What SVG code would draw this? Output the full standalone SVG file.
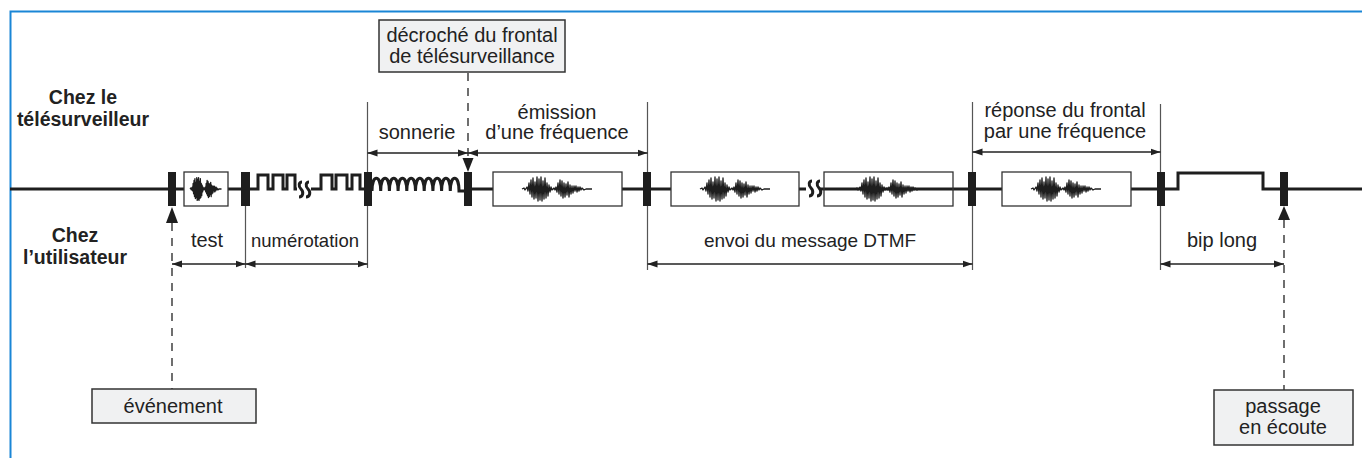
<svg xmlns="http://www.w3.org/2000/svg" width="1362" height="458" viewBox="0 0 1362 458">
<style>
text{font-family:"Liberation Sans",Arial,sans-serif;font-size:20px;fill:#222;text-anchor:middle}
.b{font-weight:bold;font-size:19.5px}
.frame{stroke:#1a86d6;stroke-width:2;fill:none}
.main{stroke:#1e1e1e;stroke-width:3;fill:none;stroke-linejoin:miter}
.mk{fill:#1e1e1e}
.box{fill:#fff;stroke:#333;stroke-width:1.3}
.gbox{fill:#f0f1f2;stroke:#333;stroke-width:1.5}
.vl{stroke:#555;stroke-width:1.2;fill:none}
.ar{stroke:#222;stroke-width:1.3;fill:none;marker-start:url(#ah);marker-end:url(#ah)}
.dash{stroke:#222;stroke-width:1.3;stroke-dasharray:8 7;fill:none}
.tri{fill:#1e1e1e}
.wv{stroke:#1e1e1e;stroke-width:1.3;fill:none;vector-effect:non-scaling-stroke;stroke-linejoin:round}
</style>
<defs>
<marker id="ah" viewBox="0 0 10 10" refX="10" refY="5" markerWidth="10" markerHeight="10" markerUnits="userSpaceOnUse" orient="auto-start-reverse">
<path d="M0,1.5 L10,5 L0,8.5 Z" fill="#222"/>
</marker>
<path id="wave" class="wv" d="M0,0 L2,-1 L3,1 L5,-2 L6,2 L7,-6 L8,5 L9,-9 L10,8 L11,-11 L12,10 L13,-7 L14,9 L15,-12 L16,12 L17,-10 L18,11 L19,-12 L20,12 L21,-8 L22,10 L23,-11 L24,9 L25,-6 L26,7 L27,-4 L28,3 L29,-2 L30,1 L32,-1 L33,1 L34,-2 L35,3 L36,-6 L37,5 L38,-9 L39,7 L40,-8 L41,9 L42,-6 L43,8 L44,-5 L45,6 L46,-7 L47,8 L48,-4 L49,5 L50,-3 L51,4 L52,-3 L53,2 L54,-3 L55,3 L56,-2 L57,2 L58,-2 L59,1 L60,-1 L62,1 L64,0 L70,0"/>
</defs>

<g id="frame">
<path class="frame" d="M10.5,458 V11.5 H1362"/>
</g>

<g id="signal">
<path class="main" d="M10,189 H250"/>
<path class="main" d="M250,189 H258 V175 H268 V189 H273 V175 H283 V189 H287 V175 H295 V189 H297"/>
<path class="main" stroke-width="2.5" d="M302,182 c-3,0 -4,4 -1,7 c3,3 2,8 -2,8 M309,182 c-3,0 -4,4 -1,7 c3,3 2,8 -2,8"/>
<path class="main" d="M311,189 H321 V175 H332 V189 H336 V175 H347 V189 H352 V175 H360 V189 H366"/>
<path class="main" stroke-width="2.5" d="M372,191 c0,-17 8.7,-17 8.7,0 c0,-17 8.7,-17 8.7,0 c0,-17 8.7,-17 8.7,0 c0,-17 8.7,-17 8.7,0 c0,-17 8.7,-17 8.7,0 c0,-17 8.7,-17 8.7,0 c0,-17 8.7,-17 8.7,0 c0,-17 8.7,-17 8.7,0 c0,-17 8.7,-17 8.7,0 c0,-17 8.7,-17 8.7,0 H466"/>
<path class="main" d="M466,189 H806"/>
<path class="main" stroke-width="2.5" d="M812,181 c-3,0 -4,4 -1,7 c3,3 2,8 -2,8 M820,181 c-3,0 -4,4 -1,7 c3,3 2,8 -2,8"/>
<path class="main" d="M819,189 H1165"/>
<path class="main" d="M1165,189 H1178 V173 H1263 V189 H1362"/>
</g>

<g id="boxes">
<g id="test-box"><rect class="box" x="184" y="172" width="44" height="34"/><use href="#wave" transform="translate(190,189) scale(0.45,0.95)"/></g>
<g id="emission-box"><rect class="box" x="493" y="172" width="129" height="34"/><use href="#wave" x="522" y="189"/></g>
<g id="dtmf-box-1"><rect class="box" x="671" y="172" width="128" height="34"/><use href="#wave" x="700" y="189"/></g>
<g id="dtmf-box-2"><rect class="box" style="fill:none" x="824" y="172" width="129" height="34"/><use href="#wave" x="855" y="189"/></g>
<g id="reponse-box"><rect class="box" x="1002" y="172" width="129" height="34"/><use href="#wave" x="1031" y="189"/></g>
</g>

<g id="connectors">
<path class="vl" d="M245.5,206 V268 M367.5,102 V268 M647.5,102 V270 M972.5,102 V270 M1160.5,104 V270"/>
<line class="ar" x1="367.5" y1="153" x2="468" y2="153"/>
<line class="ar" x1="468" y1="153" x2="647.5" y2="153"/>
<line class="ar" x1="972.5" y1="152" x2="1160.5" y2="152"/>
<line class="ar" x1="172" y1="264" x2="245.5" y2="264"/>
<line class="ar" x1="245.5" y1="264" x2="367.5" y2="264"/>
<line class="ar" x1="647.5" y1="264" x2="972.5" y2="264"/>
<line class="ar" x1="1160.5" y1="264" x2="1284" y2="264"/>
<path class="dash" d="M172,223 V389"/>
<path class="dash" d="M468,73 V158"/>
<path class="dash" d="M1284,220 V390"/>
<path class="tri" d="M172,207 L166,223 L178,223 Z"/>
<path class="tri" d="M468,172 L462.5,158 L473.5,158 Z"/>
<path class="tri" d="M1284,206 L1278,220 L1290,220 Z"/>
</g>

<g id="markers">
<rect class="mk" x="168" y="172" width="8" height="34"/>
<rect class="mk" x="241" y="172" width="9" height="34"/>
<rect class="mk" x="364" y="172" width="8" height="34"/>
<rect class="mk" x="464" y="172" width="8" height="34"/>
<rect class="mk" x="643" y="172" width="8" height="34"/>
<rect class="mk" x="968" y="172" width="8" height="34"/>
<rect class="mk" x="1157" y="172" width="8" height="34"/>
<rect class="mk" x="1280" y="172" width="8" height="34"/>
</g>

<g id="label-telesurveilleur"><text class="b" x="83" y="104">Chez le</text><text class="b" x="83" y="126">télésurveilleur</text></g>
<g id="label-utilisateur"><text class="b" x="75" y="242">Chez</text><text class="b" x="75" y="264">l’utilisateur</text></g>

<g id="decroche"><rect class="gbox" x="379" y="20" width="186" height="52"/><text x="472" y="42">décroché du frontal</text><text x="472" y="63">de télésurveillance</text></g>
<g id="evenement"><rect class="gbox" x="92" y="389" width="164" height="34"/><text x="173" y="413">événement</text></g>
<g id="passage"><rect class="gbox" x="1214" y="390" width="139" height="55"/><text x="1283" y="413">passage</text><text x="1283" y="434">en écoute</text></g>

<g id="label-sonnerie"><text x="417" y="139">sonnerie</text></g>
<g id="label-emission"><text x="557" y="119">émission</text><text x="557" y="139">d’une fréquence</text></g>
<g id="label-reponse"><text x="1065" y="117">réponse du frontal</text><text x="1065" y="138">par une fréquence</text></g>
<g id="label-test"><text x="207" y="247">test</text></g>
<g id="label-numerotation"><text x="305" y="247" style="font-size:18.5px">numérotation</text></g>
<g id="label-envoi"><text x="810" y="247" style="font-size:19px">envoi du message DTMF</text></g>
<g id="label-bip"><text x="1222" y="247">bip long</text></g>
</svg>
